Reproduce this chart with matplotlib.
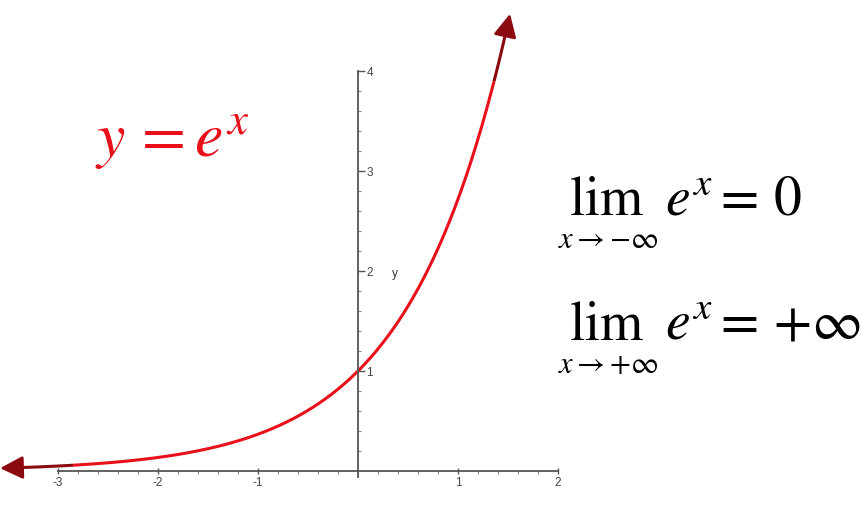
import numpy as np
import matplotlib.pyplot as plt

plt.rcParams['mathtext.fontset'] = 'stix'
plt.rcParams['axes.unicode_minus'] = False

# curve y = e^x, drawn between these x limits (arrow tips)
x_left_tip = -3.58
x_right_tip = 1.52
x_dark_left = -2.85    # dark red arrow shaft starts here
x_dark_right = 1.36

x_ticks = [-3, -2, -1, 1, 2]
y_ticks = [1, 2, 3, 4]

# limit formulas: (subscript, right-hand side, baseline y)
limits = [(r'$x{\to}{-}\infty$', r'$e^x=\,0$', 2.57),
          (r'$x{\to}{+}\infty$', r'$e^x=\,{+}\infty$', 1.32)]

red = '#e8101a'
dark = '#8b0a12'
axis_col = '#555555'

fig = plt.figure(figsize=(8.62, 5.06), dpi=100)
ax = fig.add_axes([0, 0, 1, 1])
ax.set_xlim(-3.58, 5.04)
ax.set_ylim(-0.34, 4.72)

# axes through the origin
for s in ['top', 'left']:
    ax.spines[s].set_visible(False)
ax.spines['bottom'].set_position(('data', 0))
ax.spines['right'].set_position(('data', 0))
ax.spines['bottom'].set_bounds(-3, 2)
ax.spines['right'].set_bounds(-0.06, 4)
for s in ['bottom', 'right']:
    ax.spines[s].set_color(axis_col)
    ax.spines[s].set_linewidth(1.3)

ax.yaxis.tick_right()
ax.set_xticks(x_ticks)
ax.set_yticks(y_ticks)
ax.set_xticks(np.arange(-3, 2.01, 0.2), minor=True)
ax.set_yticks(np.arange(0.2, 4.01, 0.2), minor=True)
ax.tick_params(axis='both', which='major', length=5, width=1, color=axis_col,
               labelsize=8.5, labelcolor='#444444', pad=1)
ax.tick_params(axis='both', which='minor', length=2, width=0.8, color='#888888')
ax.tick_params(axis='x', direction='inout')
ax.tick_params(axis='y', direction='out')
for lab in ax.get_xticklabels() + ax.get_yticklabels():
    lab.set_family('Liberation Sans')
ax.text(0.37, 1.98, 'y', fontsize=8.5, family='Liberation Sans', color='#333333',
        va='center', ha='center')

# curve
xs = np.linspace(x_dark_left, x_dark_right, 400)
ax.plot(xs, np.exp(xs), color=red, lw=2.2, solid_capstyle='butt')
xl = np.linspace(x_left_tip + 0.1, x_dark_left, 50)
ax.plot(xl, np.exp(xl), color=dark, lw=2.2, solid_capstyle='butt')
xr = np.linspace(x_dark_right, x_right_tip - 0.01, 50)
ax.plot(xr, np.exp(xr), color=dark, lw=2.2, solid_capstyle='butt')

arrow = dict(arrowstyle='-|>,head_length=0.7,head_width=0.35', color=dark,
             lw=2, shrinkA=0, shrinkB=0, mutation_scale=20)
ax.annotate('', xy=(x_left_tip, np.exp(x_left_tip)),
            xytext=(x_left_tip + 0.2, np.exp(x_left_tip + 0.2)), arrowprops=arrow)
ax.annotate('', xy=(x_right_tip, np.exp(x_right_tip)),
            xytext=(x_right_tip - 0.03, np.exp(x_right_tip - 0.03)), arrowprops=arrow)

# formulas
ax.text(-2.63, 3.15, r'$y\,=e^x$', color=red, fontsize=46, ha='left', va='baseline')
for sub, rhs, yb in limits:
    ax.text(2.49, yb, r'$\mathrm{lim}$', fontsize=40, ha='center', va='baseline')
    ax.text(2.50, yb - 0.33, sub, fontsize=22, ha='center', va='baseline')
    ax.text(3.07, yb, rhs, fontsize=40, ha='left', va='baseline')

plt.savefig('out.png', dpi=100)
